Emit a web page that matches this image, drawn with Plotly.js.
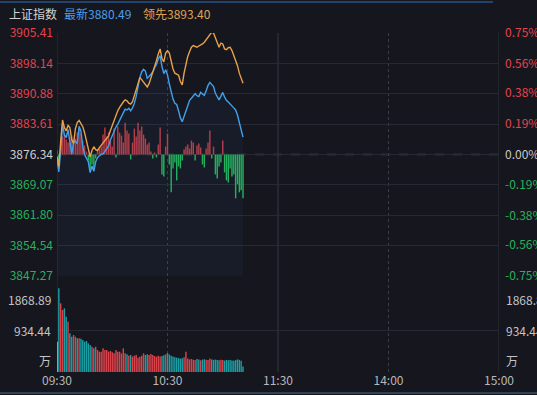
<!DOCTYPE html>
<html>
<head>
<meta charset="utf-8">
<script src="https://cdn.plot.ly/plotly-3.0.1.min.js"></script>
<style>html,body{margin:0;padding:0;background:#15161e;}#chart{width:537px;height:395px;}</style>
</head>
<body>
<div id="chart"></div>
<script>
// ---- data ----
const indexName = '上证指数';
const latestLabel = '最新';
const leadLabel = '领先';
const prevClose = 3876.34;
const timeTickPos = [0, 60, 120, 180, 240];
const timeTickLabels = ['09:30', '10:30', '11:30', '14:00', '15:00'];
const priceTicks = [3847.27, 3854.54, 3861.80, 3869.07, 3876.34, 3883.61, 3890.88, 3898.14, 3905.41];
const pctTicks = [-0.75, -0.56, -0.38, -0.19, 0.00, 0.19, 0.38, 0.56, 0.75];
const volTicks = [0, 934.44, 1868.89];
const volTickLabels = ['万', '934.44', '1868.89'];

// 最新 (blue) per minute from 09:30
const latestPrice = [
 3875.0,3872.2,3877.5,3883.6,3881.0,3880.4,3882.3,3878.8,3876.4,3879.2,
 3879.6,3878.9,3883.1,3881.9,3878.2,3876.3,3875.6,3874.6,3872.0,3873.6,
 3872.3,3874.6,3875.6,3876.0,3876.4,3876.5,3877.2,3877.8,3878.4,3879.8,
 3880.9,3882.0,3882.9,3883.6,3884.4,3885.2,3886.3,3887.2,3887.0,3887.4,
 3886.8,3887.5,3888.6,3890.3,3892.6,3894.8,3896.1,3896.7,3896.3,3894.6,
 3895.0,3895.6,3896.1,3897.1,3897.9,3899.2,3900.0,3897.4,3895.7,3896.6,
 3895.4,3893.2,3891.3,3889.6,3888.6,3888.3,3886.8,3885.1,3884.2,3885.6,
 3887.0,3888.2,3889.3,3889.8,3890.4,3890.9,3890.4,3890.2,3891.2,3890.9,
 3890.5,3891.6,3892.9,3893.6,3893.2,3892.6,3891.0,3890.2,3889.4,3890.3,
 3891.2,3890.1,3889.3,3888.9,3888.5,3887.9,3887.5,3887.0,3885.8,3884.0,
 3882.3,3880.49
];
// 领先 (orange) per minute
const leadPrice = [
 3875.9,3873.5,3879.5,3884.6,3882.8,3882.0,3883.3,3882.8,3879.9,3879.0,
 3882.5,3884.0,3884.5,3883.9,3883.0,3881.5,3879.8,3877.6,3875.8,3877.3,
 3878.2,3877.5,3877.3,3878.0,3878.6,3879.0,3879.5,3880.2,3880.8,3882.1,
 3883.4,3884.6,3885.8,3886.8,3887.6,3888.4,3888.9,3889.4,3889.2,3888.6,
 3888.4,3889.0,3890.3,3891.5,3893.3,3894.8,3894.2,3893.5,3892.9,3892.5,
 3893.3,3894.6,3895.8,3897.3,3898.8,3900.4,3901.6,3899.3,3898.5,3900.6,
 3901.2,3900.6,3898.6,3896.8,3895.8,3895.5,3895.3,3893.8,3893.0,3895.8,
 3898.2,3899.8,3901.0,3902.0,3902.4,3902.2,3902.0,3902.3,3902.5,3902.8,
 3903.2,3903.8,3904.6,3905.3,3905.6,3905.4,3904.3,3902.8,3902.0,3903.0,
 3902.8,3901.6,3901.4,3901.9,3902.0,3901.2,3900.0,3898.9,3897.6,3895.8,
 3894.6,3893.40
];
// red/green strength bars in the price panel
const strength = [
 4,-6,12,18,21,15,12,17,19,13,
 16,22,26,21,14,9,3,-6,-14,-10,
 -16,-4,4,6,8,20,27,18,22,14,
 8,26,-3,28,22,19,12,32,24,21,
 -5,12,26,18,32,24,28,20,16,10,
 12,3,-4,2,-3,10,27,-20,-22,8,
 21,-10,-38,-14,-8,-26,-12,-14,-6,5,
 8,10,6,14,12,-6,9,11,7,-10,
 -13,6,12,24,-4,8,-20,-24,-12,-8,
 14,-18,-26,-28,-14,-22,-20,-44,-30,-38,
 -36,-44
];
// volume (万)
const volume = [
 674,1862,1528,1380,1417,1230,1119,861,786,823,
 786,749,749,738,712,674,690,638,601,563,
 527,563,490,452,452,527,490,490,452,467,
 437,415,490,452,452,415,527,415,393,363,
 378,341,363,378,319,341,363,415,378,393,
 378,400,378,355,340,360,345,355,370,390,
 420,390,360,345,330,320,310,300,305,330,
 452,300,280,290,270,265,290,280,260,275,
 285,270,265,300,280,270,275,265,260,270,
 265,255,270,260,265,255,250,265,280,270,
 250,120
];

// ---- derived ----
const idx = latestPrice.map((_, i) => i);
const UP = '#e5434d', DOWN = '#27b25a', FLAT = '#d0d0d0';
const priceText = priceTicks.map(p => {
  const c = p > prevClose ? UP : (p < prevClose ? DOWN : FLAT);
  return '<span style="color:' + c + '">' + p.toFixed(2) + '</span>';
});
const pctText = pctTicks.map(v => {
  const c = v > 0 ? UP : (v < 0 ? DOWN : '#c8c8c8');
  return '<span style="color:' + c + '">' + v.toFixed(2) + '%</span>';
});
const pmin = priceTicks[0], pmax = priceTicks[priceTicks.length - 1];
const pctRange = [(pmin / prevClose - 1) * 100, (pmax / prevClose - 1) * 100];
const strengthColors = strength.map(v => v >= 0 ? 'rgba(214,66,76,0.85)' : '#22b357');
const volColors = volume.map((v, i) => i === 0 ? '#a8d8ea' :
  (latestPrice[i] > latestPrice[i - 1] ? '#d9434b' : (latestPrice[i] < latestPrice[i - 1] ? '#1c9ea4' : '#7f8c9a')));

const FONT = 'Noto Sans CJK SC, Noto Sans, sans-serif';
const L = 57, R = 499, T = 33, B = 372;
const px2x = px => (px - L) / (R - L);
const px2y = py => (B - py) / (B - T);

const traces = [
  { type: 'bar', x: idx, y: strength, xaxis: 'x', yaxis: 'y', marker: { color: strengthColors, line: { width: 0 } }, hoverinfo: 'skip' },
  { type: 'scatter', mode: 'lines', x: idx, y: latestPrice, xaxis: 'x', yaxis: 'y3', fill: 'tozeroy',
    fillcolor: 'rgba(70,130,210,0.06)', line: { color: '#42a0ea', width: 1.4 } },
  { type: 'scatter', mode: 'lines', x: idx, y: leadPrice, xaxis: 'x', yaxis: 'y3',
    line: { color: '#e6a24c', width: 1.4 } },
  { type: 'bar', x: idx, y: volume, xaxis: 'x', yaxis: 'y2', marker: { color: volColors, line: { width: 0 } } }
];

const priceDomain = [px2y(276), 1];
const volDomain = [0, px2y(288)];

const shapes = [];
const vline = (xv, dash, color) => shapes.push({ type: 'line', xref: 'x', yref: 'paper', x0: xv, x1: xv, y0: 0, y1: 1, layer: 'below', line: { color: color, width: 1, dash: dash } });
vline(0, 'solid', '#30323b');
vline(240, 'solid', '#30323b');
vline(60, 'dot', '#3b3d47');
vline(120, 'solid', '#363843');
vline(180, 'dot', '#3b3d47');
shapes.push({ type: 'line', xref: 'paper', yref: 'y3', x0: 0, x1: 1, y0: prevClose, y1: prevClose, layer: 'below', line: { color: '#4c4e58', width: 1.5, dash: 'dash' } });
shapes.push({ type: 'line', xref: 'paper', yref: 'paper', x0: px2x(0), x1: px2x(493), y0: px2y(2), y1: px2y(2), line: { color: '#2f72c0', width: 1 } });
shapes.push({ type: 'line', xref: 'paper', yref: 'paper', x0: px2x(0), x1: px2x(537), y0: px2y(393), y1: px2y(393), line: { color: '#2e4257', width: 2 } });

const annotations = [];
const hdrY = px2y(14);
annotations.push({ xref: 'paper', yref: 'paper', x: px2x(7), y: hdrY, xanchor: 'left', yanchor: 'middle', showarrow: false, text: indexName, font: { family: FONT, size: 12, color: '#d2d2d2' } });
annotations.push({ xref: 'paper', yref: 'paper', x: px2x(62), y: hdrY, xanchor: 'left', yanchor: 'middle', showarrow: false, text: latestLabel + latestPrice[latestPrice.length - 1].toFixed(2), font: { family: FONT, size: 12, color: '#4a9ee8' } });
annotations.push({ xref: 'paper', yref: 'paper', x: px2x(141), y: hdrY, xanchor: 'left', yanchor: 'middle', showarrow: false, text: leadLabel + leadPrice[leadPrice.length - 1].toFixed(2), font: { family: FONT, size: 12, color: '#e0a352' } });
const volAnchors = ['bottom', 'middle', 'top'];
volTicks.forEach((v, i) => {
  [[0, 'right', -4], [1, 'left', 5]].forEach(([xp, xa, sh]) => {
    annotations.push({ xref: 'paper', yref: 'y2', x: xp, y: v, xanchor: xa, yanchor: volAnchors[i], xshift: sh, yshift: i === 0 ? 1 : (i === 2 ? -1 : 0),
      showarrow: false, text: volTickLabels[i], font: { family: FONT, size: 12, color: '#c4c4c4' } });
  });
});

const layout = {
  width: 537, height: 395,
  paper_bgcolor: '#15161e', plot_bgcolor: 'rgba(0,0,0,0)',
  margin: { l: L, r: 537 - R, t: T, b: 395 - B, pad: 0 },
  showlegend: false, bargap: 0.22,
  font: { family: FONT, size: 12, color: '#c0c0c0' },
  xaxis: { anchor: 'y2', range: [0, 240], tickvals: timeTickPos, ticktext: timeTickLabels, showgrid: false, zeroline: false,
    showline: false, ticks: '', tickfont: { family: FONT, size: 12, color: '#b8b8b8' }, fixedrange: true },
  yaxis: { domain: priceDomain, range: [-122, 122], visible: false, fixedrange: true },
  yaxis3: { overlaying: 'y', side: 'left', anchor: 'x', range: [pmin, pmax], tickvals: priceTicks, ticktext: priceText,
    showgrid: true, gridcolor: '#272932', gridwidth: 1, zeroline: false, ticks: '', ticklabelstandoff: 3,
    tickfont: { family: FONT, size: 12 }, fixedrange: true },
  yaxis4: { overlaying: 'y', side: 'right', anchor: 'x', range: pctRange, tickvals: pctTicks, ticktext: pctText,
    showgrid: false, zeroline: false, ticks: '', ticklabelstandoff: 5, tickfont: { family: FONT, size: 12 }, fixedrange: true },
  yaxis2: { domain: volDomain, range: [0, 1868.89], tickvals: volTicks, showticklabels: false, showgrid: true,
    gridcolor: '#272932', zeroline: false, ticks: '', fixedrange: true },
  shapes: shapes,
  annotations: annotations
};

// invisible trace so the right-hand percent axis is drawn
traces.push({ type: 'scatter', mode: 'lines', x: [0], y: [0], xaxis: 'x', yaxis: 'y4', hoverinfo: 'skip', line: { color: 'rgba(0,0,0,0)' } });

Plotly.newPlot('chart', traces, layout, { displayModeBar: false, staticPlot: true });
</script>
</body>
</html>
